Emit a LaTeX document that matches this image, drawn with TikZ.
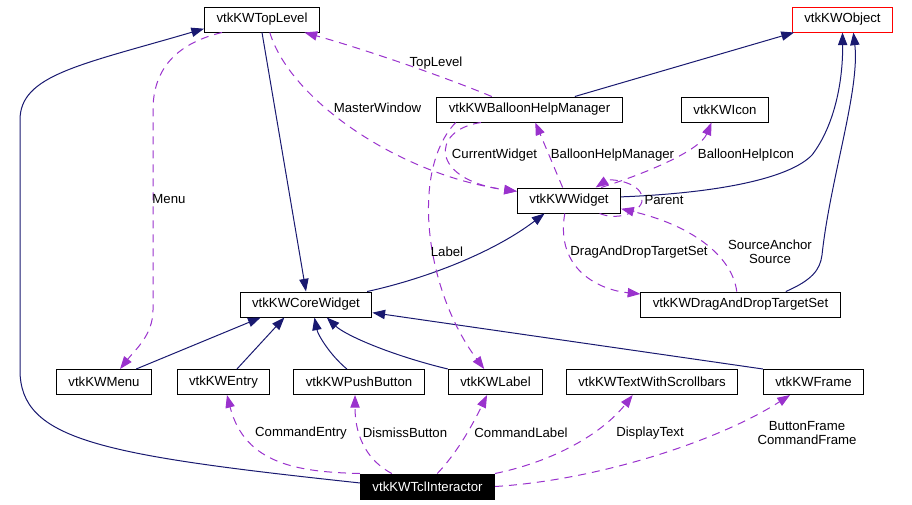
\documentclass[tikz,border=0pt]{standalone}
\usepackage{fontspec}
\setmainfont{Liberation Sans}
\usetikzlibrary{arrows.meta}
\definecolor{navyline}{RGB}{25,25,112}
\definecolor{orchidline}{RGB}{154,50,205}
\begin{document}
\begin{tikzpicture}[x=0.75pt,y=-0.75pt,
  cls/.style={draw,rectangle,line width=0.75pt,minimum height=18.75pt,inner xsep=9pt,inner ysep=0pt,font=\fontsize{9.9}{11}\selectfont},
  inherit/.style={draw=navyline,line width=0.75pt,-{Triangle[length=9.5pt,width=7pt]}},
  uses/.style={draw=orchidline,line width=0.75pt,dash pattern=on 6pt off 4.5pt,-{Triangle[length=9.5pt,width=7pt]}},
  elabel/.style={font=\fontsize{9.9}{10.5}\selectfont,align=center,inner sep=0pt}]
\useasboundingbox (0,0) rectangle (912,504);
\node[cls] (top) at (262,19.5) {vtkKWTopLevel};
\node[cls,draw=red] (obj) at (842.5,19.5) {vtkKWObject};
\node[cls] (bhm) at (529.5,109.5) {vtkKWBalloonHelpManager};
\node[cls] (icon) at (725,109.5) {vtkKWIcon};
\node[cls] (widget) at (569,200.5) {vtkKWWidget};
\node[cls] (core) at (306,304.5) {vtkKWCoreWidget};
\node[cls] (dadts) at (740.5,304.5) {vtkKWDragAndDropTargetSet};
\node[cls] (menu) at (104,382) {vtkKWMenu};
\node[cls] (entry) at (223.5,382) {vtkKWEntry};
\node[cls] (pb) at (359,382) {vtkKWPushButton};
\node[cls] (kwlabel) at (495.5,382) {vtkKWLabel};
\node[cls] (tws) at (652,382) {vtkKWTextWithScrollbars};
\node[cls] (frame) at (813.5,382) {vtkKWFrame};
\node[cls,fill=black,text=white] (tcl) at (427.5,486.5) {vtkKWTclInteractor};
\draw[inherit] (tcl.177) .. controls (100,455) and (20,440) .. (20,370) -- (20,120) .. controls (20,75) and (80,65) .. (top.189);
\draw[inherit] (top.south) -- (core.north);
\draw[inherit] (bhm.16) -- (obj.195);
\draw[inherit] (widget.4) .. controls (720,193) and (790,178) .. (812,155) .. controls (835,125) and (843,80) .. (obj.south);
\draw[inherit] (dadts.16) .. controls (812,280) and (820,270) .. (822,255) .. controls (830,180) and (860,90) .. (obj.310);
\draw[inherit] (core.12) .. controls (420,280) and (490,255) .. (widget.208);
\draw[inherit] (menu.22) -- (core.196);
\draw[inherit] (entry.44) -- (core.211);
\draw[inherit] (pb.133) .. controls (330,355) and (318,335) .. (core.303);
\draw[inherit] (kwlabel.north west) .. controls (390,355) and (345,335) .. (core.328);
\draw[inherit] (frame.north west) -- (core.353);
\draw[uses] (top.198) .. controls (170,45) and (153,75) .. (153,110) -- (153,310) .. controls (153,335) and (135,350) .. (menu.39);
\draw[uses] (bhm.161) .. controls (440,75) and (360,48) .. (top.343);
\draw[uses] (top.301) .. controls (290,100) and (400,175) .. (widget.170);
\draw[uses] (bhm.195) .. controls (430,130) and (430,180) .. (widget.170);
\draw[uses] (bhm.190) .. controls (410,170) and (425,290) .. (kwlabel.131);
\draw[uses] (widget.116) -- (bhm.294);
\draw[uses] (widget.22) .. controls (650,172) and (700,150) .. (icon.224);
\draw[uses] (widget.337) .. controls (620,222) and (645,210) .. (642,197) .. controls (640,182) and (610,178) .. (widget.26);
\draw[uses] (dadts.106) .. controls (732,255) and (690,225) .. (widget.351);
\draw[uses] (widget.252) .. controls (555,270) and (600,290) .. (dadts.174);
\draw[uses] (tcl.north west) .. controls (300,472) and (245,465) .. (entry.285);
\draw[uses] (tcl.160) .. controls (370,462) and (355,440) .. (pb.253);
\draw[uses] (tcl.53) .. controls (455,455) and (470,430) .. (kwlabel.237);
\draw[uses] (tcl.north east) .. controls (560,460) and (605,430) .. (tws.214);
\draw[uses] (tcl.east) .. controls (600,480) and (720,440) .. (frame.209);
\node[elabel] (lmenu) at (169,199) {Menu};
\node[elabel] (ltoplevel) at (436,63) {TopLevel};
\node[elabel] (lmaster) at (377.5,108) {MasterWindow};
\node[elabel] (lcurrent) at (494.5,155) {CurrentWidget};
\node[elabel] (lbhm) at (612.5,155) {BalloonHelpManager};
\node[elabel] (licon) at (746,155) {BalloonHelpIcon};
\node[elabel] (lparent) at (664,200) {Parent};
\node[elabel] (llabel) at (447,252) {Label};
\node[elabel] (ldadts) at (639,252) {DragAndDropTargetSet};
\node[elabel] (lsource) at (770,252) {SourceAnchor\\Source};
\node[elabel] (lentry) at (301,433) {CommandEntry};
\node[elabel] (ldismiss) at (405,433) {DismissButton};
\node[elabel] (lcmdlabel) at (521,433) {CommandLabel};
\node[elabel] (ldisplay) at (650,433) {DisplayText};
\node[elabel] (lframe) at (807,433) {ButtonFrame\\CommandFrame};
\end{tikzpicture}
\end{document}
